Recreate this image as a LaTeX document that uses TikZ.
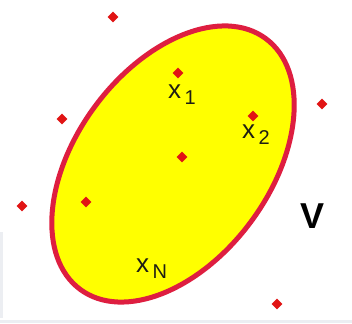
\documentclass[tikz,border=0pt]{standalone}
\usepackage{fontspec}
\setmainfont{Liberation Sans}
\usetikzlibrary{shapes.geometric}
\definecolor{ptred}{RGB}{225,20,20}
\definecolor{rimred}{RGB}{222,30,64}
\definecolor{fillyel}{RGB}{255,255,0}
\definecolor{lbl}{RGB}{30,30,20}
\definecolor{edgegray}{RGB}{236,238,242}
\tikzset{
  pt/.style={diamond,fill=ptred,draw=none,inner sep=0pt,minimum size=11pt},
  lab/.style={inner sep=0pt,text=lbl,anchor=base west},
}
\newcommand{\xsub}[1]{{\fontsize{26}{26}\selectfont x}\raisebox{-6pt}{\fontsize{20}{20}\selectfont\,#1}}
\begin{document}
\begin{tikzpicture}[x=1pt,y=-1pt]
\useasboundingbox (0,0) rectangle (352,323);
\fill[white] (0,0) rectangle (352,323);
\fill[edgegray] (0,232) rectangle (3,318);
\fill[edgegray] (0,320) rectangle (352,323);
% ellipse
\draw[draw=rimred,fill=fillyel,line width=5pt,shift={(173,164)},rotate=53.5]
  (0,0) ellipse [x radius=156pt, y radius=97pt];
% points
\node[pt] (p1) at (113,17) {};
\node[pt] (p2) at (178,73) {};
\node[pt] (p3) at (62,119) {};
\node[pt] (p4) at (253,116) {};
\node[pt] (p5) at (322,104) {};
\node[pt] (p6) at (182,157) {};
\node[pt] (p7) at (86,202) {};
\node[pt] (p8) at (22,206) {};
\node[pt] (p9) at (277,304) {};
% labels
\node[lab] (l1) at (168,99) {\xsub{1}};
\node[lab] (l2) at (242,138) {\xsub{2}};
\node[lab] (lN) at (136,272) {\xsub{N}};
\node[inner sep=0pt,anchor=base] (V) at (312,228) {\fontsize{36}{36}\selectfont\bfseries V};
\end{tikzpicture}
\end{document}
